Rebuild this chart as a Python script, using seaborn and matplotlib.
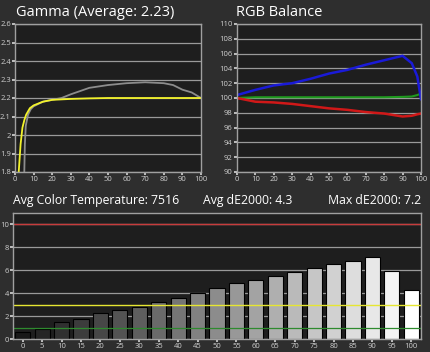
import matplotlib
matplotlib.use('Agg')
import matplotlib.pyplot as plt
import seaborn as sns
import pandas as pd
import numpy as np

# ---- data ----
gamma_x = [5, 5.3, 5.8, 7, 8.5, 10, 15, 20, 25, 30, 40, 50, 60, 70, 80, 85, 88, 90, 95, 100]
gamma_y = [1.8, 1.95, 2.05, 2.11, 2.14, 2.155, 2.18, 2.19, 2.2, 2.22, 2.255, 2.27, 2.28, 2.285,
           2.28, 2.27, 2.255, 2.245, 2.23, 2.2]
target_x = [2, 3, 4, 5, 6, 8, 10, 15, 20, 30, 40, 50, 60, 70, 80, 90, 100]
target_y = [1.8, 1.95, 2.04, 2.08, 2.11, 2.145, 2.16, 2.18, 2.19, 2.195, 2.198, 2.2, 2.2, 2.2, 2.2, 2.2, 2.2]

rgb_x = [0, 10, 20, 30, 40, 50, 60, 70, 80, 90, 95, 98, 100]
red = [100.0, 99.5, 99.4, 99.2, 98.9, 98.6, 98.4, 98.1, 97.9, 97.5, 97.6, 97.8, 97.9]
green = [100.0, 100.1, 100.1, 100.1, 100.1, 100.1, 100.1, 100.1, 100.1, 100.15, 100.2, 100.4, 100.6]
blue = [100.4, 101.1, 101.7, 102.0, 102.6, 103.3, 103.8, 104.5, 105.1, 105.7, 104.7, 102.9, 99.8]

levels = ['0', '5', '10', '15', '20', '25', '30', '35', '40', '45', '50',
          '55', '60', '65', '70', '75', '80', '85', '90', '95', '100']
de2000 = [0.64, 0.87, 1.5, 1.74, 2.29, 2.55, 2.81, 3.19, 3.62, 4.03, 4.41,
          4.87, 5.19, 5.51, 5.83, 6.23, 6.52, 6.84, 7.13, 5.94, 4.26]

BG = '#2e2e2e'
FACE = '#1e1e1e'
GRID = '#9a9a9a'
TICK = '#d0d0d0'

sns.set_theme(style='dark', rc={
    'axes.facecolor': FACE,
    'figure.facecolor': BG,
    'axes.edgecolor': '#a0a0a0',
    'axes.linewidth': 1.0,
    'xtick.color': TICK,
    'ytick.color': TICK,
    'xtick.labelsize': 5.5,
    'ytick.labelsize': 5.5,
    'xtick.major.size': 2,
    'ytick.major.size': 2,
    'xtick.bottom': True,
    'ytick.left': True,
})
plt.rcParams['font.family'] = ['Open Sans', 'DejaVu Sans']

fig = plt.figure(figsize=(4.3, 3.52), dpi=100)
W, H = 430, 352
TITLE = 10.5
SUB = 8.8


def px_axes(left, top, right, bottom):
    return fig.add_axes([left / W, (H - bottom) / H, (right - left) / W, (bottom - top) / H])


def style(ax):
    ax.grid(True, axis='y', color=GRID, linewidth=0.9)
    ax.grid(False, axis='x')
    ax.set_xlabel('')
    ax.set_ylabel('')
    for s in ax.spines.values():
        s.set_color('#a0a0a0')
    ax.tick_params(axis='both', pad=1)


# ---- Gamma ----
ax1 = px_axes(15, 24, 201, 172)
sns.lineplot(x=gamma_x, y=gamma_y, ax=ax1, color='#8c8c8c', linewidth=1.3, sort=False)
sns.lineplot(x=target_x, y=target_y, ax=ax1, color='#f2f22a', linewidth=1.3, sort=False)
ax1.set_xlim(0, 100)
ax1.set_ylim(1.8, 2.6)
ax1.set_xticks(range(0, 101, 10))
gt = [1.8, 1.9, 2.0, 2.1, 2.2, 2.3, 2.4, 2.5, 2.6]
ax1.set_yticks(gt)
ax1.set_yticklabels(['1.8', '1.9', '2', '2.1', '2.2', '2.3', '2.4', '2.5', '2.6'])
style(ax1)
fig.text(16 / W, 1 - 13 / H, 'Gamma (Average: 2.23)', color='white', fontsize=TITLE, va='center', ha='left')

# ---- RGB balance ----
ax2 = px_axes(237, 24, 421, 172)
sns.lineplot(x=rgb_x, y=green, ax=ax2, color='#1f9a1f', linewidth=1.5)
sns.lineplot(x=rgb_x, y=red, ax=ax2, color='#d01818', linewidth=1.8)
sns.lineplot(x=rgb_x, y=blue, ax=ax2, color='#1a1ad8', linewidth=1.8)
ax2.set_xlim(0, 100)
ax2.set_ylim(90, 110)
ax2.set_xticks(range(0, 101, 10))
ax2.set_yticks(range(90, 111, 2))
style(ax2)
fig.text(236 / W, 1 - 13 / H, 'RGB Balance', color='white', fontsize=TITLE, va='center', ha='left')

# ---- dE2000 bars ----
ax3 = px_axes(13, 213, 421, 339)
df = pd.DataFrame({'level': levels, 'de': de2000})
shades = [plt.cm.gray(0.1 + 0.9 * i / (len(levels) - 1)) for i in range(len(levels))]
sns.barplot(data=df, x='level', y='de', hue='level', palette=shades, legend=False,
            ax=ax3, width=0.78, edgecolor='black', linewidth=0.8, saturation=1)
ax3.set_xlim(-0.5, len(levels) - 0.5)
ax3.set_ylim(0, 11)
ax3.set_yticks(range(0, 11, 2))
style(ax3)
ax3.axhline(10, color='#c83c3c', linewidth=1.0)
ax3.axhline(3, color='#e6e632', linewidth=1.0)
ax3.axhline(1, color='#2e8a2e', linewidth=0.9)
fig.text(13 / W, 1 - 200 / H, 'Avg Color Temperature: 7516', color='white', fontsize=SUB, va='center', ha='left')
fig.text(203 / W, 1 - 200 / H, 'Avg dE2000: 4.3', color='white', fontsize=SUB, va='center', ha='left')
fig.text(421 / W, 1 - 200 / H, 'Max dE2000: 7.2', color='white', fontsize=SUB, va='center', ha='right')

fig.savefig('out.png', dpi=100, facecolor=BG)
